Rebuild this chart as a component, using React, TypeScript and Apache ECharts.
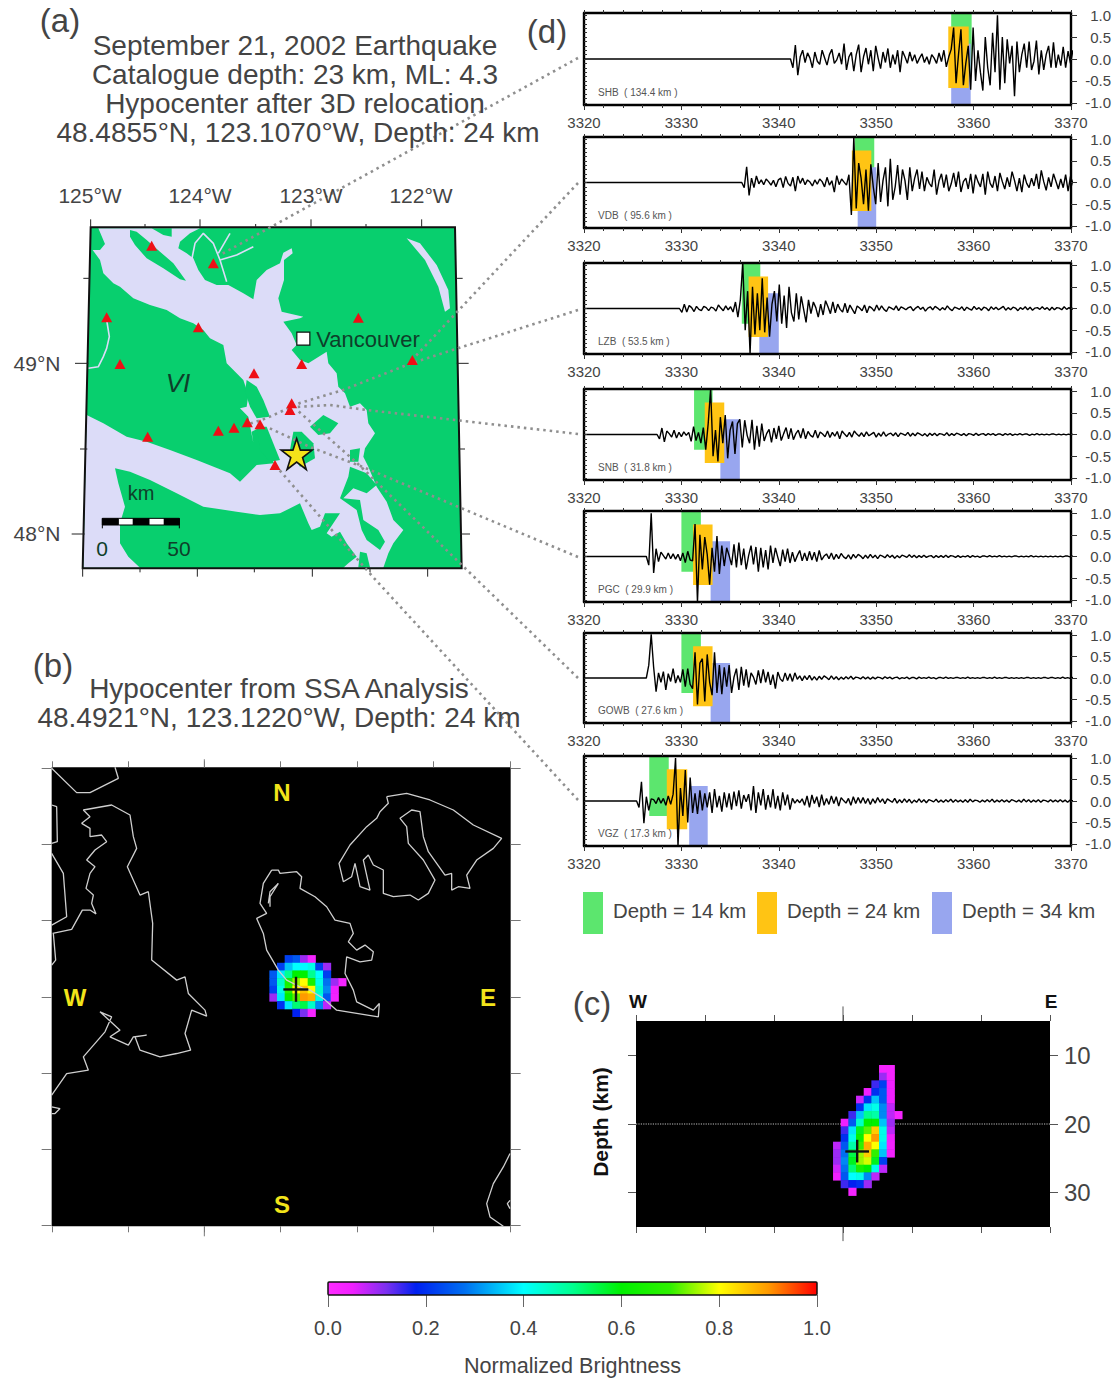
import React, { useEffect, useRef } from "react";
import * as echarts from "echarts";

const FONT = "Liberation Sans";
const stations = ["SHB  ( 134.4 km )", "VDB  ( 95.6 km )", "LZB  ( 53.5 km )", "SNB  ( 31.8 km )", "PGC  ( 29.9 km )", "GOWB  ( 27.6 km )", "VGZ  ( 17.3 km )"];
const panelTops = [13, 137, 263, 389, 511, 633, 756];
const panelBottoms = [105, 228, 354, 480, 602, 723, 846];
const xTicks = [3320, 3370];
const yTickValues = [-1, -0.5, 0, 0.5, 1];
const yMinorValues = [-1, -0.9, -0.8, -0.7, -0.6, -0.5, -0.4, -0.3, -0.2, -0.1, 0, 0.1, 0.2, 0.3, 0.4, 0.5, 0.6, 0.7, 0.8, 0.9, 1];
const greenWindows = [[3357.7, 3359.8], [3347.8, 3349.8], [3336.2, 3338.1], [3331.3, 3333.2], [3330, 3332], [3330, 3332], [3326.7, 3328.7]];
const orangeWindows = [[3357.4, 3359.5], [3347.5, 3349.5], [3336.9, 3338.9], [3332.4, 3334.4], [3331.2, 3333.2], [3331.2, 3333.2], [3328.5, 3330.6]];
const blueWindows = [[3357.7, 3359.7], [3348.1, 3350], [3338, 3340], [3334, 3336], [3333, 3335], [3333, 3335], [3330.8, 3332.7]];
const greenRange = [1.05, -0.35];
const orangeRange = [0.74, -0.66];
const blueRange = [0.35, -1.05];
const waveStep = 0.25;
const waveOnsets = [3341.2, 3336.2, 3329.8, 3327.5, 3326.4, 3326.4, 3325.4];

const waveSHB = [0, -0.2, 0.32, -0.37, 0.05, 0.2, -0.08, 0.14, 0.02, -0.2, 0.16, -0.05, -0.12, 0.2, 0.03, -0.14, 0.1, 0.22, -0.1, -0.02, 0.14, -0.12, 0.35, -0.25, 0.05, 0.15, -0.28, 0.1, 0.33, -0.3, 0.05, 0.25, -0.12, 0.2, -0.28, 0.3, 0.02, -0.22, 0.16, -0.08, 0.24, -0.2, 0.1, -0.12, 0.2, -0.3, 0.18, 0.05, -0.1, 0.16, -0.05, 0.1, -0.1, 0.02, 0.12, -0.08, 0.05, -0.12, 0.1, 0.02, -0.1, 0.14, -0.06, 0.2, -0.18, 0.05, 0.22, 0.72, -0.55, 0.1, 0.68, -0.6, -0.1, 0.3, -0.7, 0.72, -0.5, 0.2, -0.3, -0.72, 0.5, -0.2, -0.6, 0.6, -0.3, 1.0, -0.7, 0.5, -0.55, 0.45, -0.1, 0.3, -0.85, 0.4, -0.3, 0.1, 0.35, -0.2, 0.4, -0.25, -0.05, 0.42, -0.35, 0.2, -0.25, 0.1, 0.3, -0.2, 0.38, -0.2, 0.1, -0.15, 0.28, -0.2, 0.18, -0.1, 0.2];
const waveVDB = [0, -0.12, 0.36, -0.3, 0.1, -0.12, 0.15, -0.03, 0.06, -0.05, 0.08, 0.02, -0.06, 0.05, -0.1, 0.06, 0.1, -0.12, 0.14, -0.02, -0.08, 0.12, -0.2, 0.15, -0.02, 0.1, -0.05, 0.06, 0.01, -0.08, 0.06, -0.04, 0.08, 0.02, -0.1, 0.12, -0.06, 0.04, -0.22, 0.16, -0.05, 0.08, 0.01, -0.06, 0.18, -0.75, 1.05, -0.6, 0.45, 0.1, -0.5, 0.3, -0.65, 0.42, -0.1, -0.5, 0.45, -0.45, 0.05, 0.35, -0.55, 0.55, -0.4, -0.1, 0.4, -0.28, 0.3, 0.05, -0.4, 0.35, -0.2, 0.1, 0.3, -0.15, 0.25, -0.2, 0.12, -0.02, -0.1, 0.3, -0.28, 0.04, 0.2, -0.12, 0.18, -0.2, -0.03, 0.22, -0.1, 0.25, -0.22, 0.02, 0.1, -0.15, 0.2, -0.25, 0.18, 0.02, -0.1, 0.2, -0.28, 0.25, -0.02, -0.12, 0.15, -0.2, 0.22, 0.02, -0.15, 0.12, -0.1, 0.25, 0.05, -0.2, 0.1, -0.22, 0.18, -0.02, -0.12, 0.1, -0.08, 0.2, -0.15, 0.28, 0.02, -0.18, 0.12, -0.1, 0.2, 0.03, -0.15, 0.08, -0.12, 0.18, -0.2, 0.14, -0.02, -0.22, 0.2, -0.1, 0.12, -0.25, 0.15, -0.08, 0.1];
const waveLZB = [0, -0.09, 0.1, -0.08, 0.07, 0.02, -0.07, 0.05, -0.02, -0.05, 0.05, 0.02, -0.05, 0.03, 0.01, -0.06, 0.08, 0.01, -0.05, 0.06, -0.03, 0.04, -0.08, 0.15, -0.2, 0.2, 1.05, -0.5, 0.4, -1.05, 0.5, -0.6, 0.35, -0.5, 0.7, -0.55, 0.25, -0.65, 0.1, 0.4, -0.3, 0.55, -0.35, 0.3, -0.45, 0.5, -0.1, -0.3, 0.35, -0.25, 0.28, -0.02, -0.32, 0.2, -0.12, 0.15, 0.02, -0.2, 0.1, -0.15, 0.18, 0.04, -0.12, 0.15, -0.1, 0.1, -0.02, -0.08, 0.12, -0.1, 0.08, -0.02, -0.12, 0.06, 0.01, -0.05, 0.08, -0.1, 0.05, 0.01, -0.06, 0.08, -0.04, 0.06, -0.02, -0.07, 0.04, 0.01, -0.03, 0.06, -0.05, 0.04, 0.01, -0.03, 0.02, 0.04, -0.05, 0.01, 0.05, -0.02, 0.03, -0.06, 0.01, 0.04, -0.03, 0.05, 0.01, -0.04, 0.02, -0.03, 0.06, -0.01, -0.05, 0.03, 0.01, -0.02, 0.04, -0.05, 0.03, -0.01, -0.04, 0.05, -0.02, 0.02, -0.04, 0.03, 0.01, -0.05, 0.04, -0.02, 0.03, -0.03, 0.01, 0.05, -0.04, 0.02, -0.03, 0.03, 0.01, -0.05, 0.02, -0.02, 0.04, -0.03, 0.03, -0.04, 0.01, 0.02, -0.02, 0.04, -0.02, 0.02, -0.04, 0.03, -0.03, 0.02, 0.01, -0.03, 0.04, -0.02, 0.02, -0.03, 0.03, -0.02, 0.02, 0.01];
const waveSNB = [0, -0.1, 0.15, -0.17, 0.08, 0.02, -0.06, 0.1, -0.08, 0.05, -0.05, 0.06, -0.02, 0.05, -0.16, 0.18, -0.14, 0.05, -0.2, 0.16, -0.35, 0.25, 1.05, -0.5, 0.1, -0.62, 0.4, -0.2, 0.45, -0.55, 0.1, 0.3, -0.45, 0.25, 0.35, -0.3, 0.33, -0.02, -0.2, 0.34, -0.35, 0.2, -0.28, 0.25, -0.15, 0.02, 0.12, -0.18, 0.15, -0.1, 0.2, -0.14, 0.02, 0.16, -0.1, 0.14, -0.12, 0.02, 0.1, -0.08, 0.14, -0.1, 0.07, -0.02, -0.06, 0.1, -0.08, 0.06, 0.01, -0.05, 0.08, -0.07, 0.05, -0.04, 0.07, -0.1, 0.08, 0.01, -0.05, 0.05, -0.06, 0.08, 0.01, -0.04, 0.04, -0.05, 0.06, -0.03, 0.01, 0.05, -0.06, 0.03, -0.04, 0.06, -0.04, 0.01, 0.03, -0.03, 0.04, -0.05, 0.03, 0.01, -0.02, 0.05, -0.04, 0.03, -0.03, 0.04, 0.01, -0.03, 0.02, -0.04, 0.03, -0.02, 0.03, -0.03, 0.02, 0.01, -0.02, 0.04, -0.03, 0.02, -0.02, 0.03, 0.01, -0.02, 0.02, -0.03, 0.02, 0.01, -0.02, 0.03, -0.02, 0.01, 0.02, -0.02, 0.02, -0.01, 0.02, -0.02, 0.01, 0.01, -0.02, 0.02, -0.01, 0.02, -0.02, 0.01, -0.01, 0.02, -0.01, 0.01, 0.01, -0.02, 0.01, -0.01, 0.02, -0.01, 0.01, -0.01, 0.01, -0.01, 0.01, 0.01, -0.01, 0.01, -0.01, 0.01, -0.01, 0.01, -0.01, 0.01, 0.01];
const wavePGC = [0, -0.2, 1.0, -0.38, 0.18, -0.12, 0.1, 0.02, -0.06, 0.08, -0.05, 0.06, -0.06, 0.05, -0.1, 0.08, -0.14, 0.12, -0.08, -0.1, 0.75, -1.05, 0.5, -0.3, 0.45, 0.05, -0.65, 0.2, -0.35, 0.47, -0.4, 0.25, -0.22, 0.2, 0.02, -0.2, 0.28, -0.25, 0.32, -0.2, 0.18, -0.3, 0.02, 0.25, -0.18, 0.22, -0.35, 0.2, -0.25, 0.15, -0.3, 0.25, -0.15, 0.2, -0.02, -0.22, 0.16, -0.12, 0.18, -0.15, 0.1, -0.12, 0.02, 0.14, -0.1, 0.08, -0.1, 0.12, -0.08, 0.1, -0.12, 0.14, -0.08, 0.01, 0.06, -0.05, 0.08, -0.07, 0.05, -0.05, 0.07, -0.01, -0.05, 0.04, -0.06, 0.05, -0.03, 0.05, 0.01, -0.05, 0.03, -0.04, 0.05, -0.03, 0.03, -0.05, 0.03, 0.01, -0.03, 0.04, -0.02, 0.03, -0.04, 0.02, -0.03, 0.03, 0.01, -0.02, 0.04, -0.02, 0.03, -0.03, 0.02, -0.02, 0.03, -0.02, 0.01, 0.02, -0.03, 0.02, -0.02, 0.02, -0.02, 0.03, -0.02, 0.02, 0.01, -0.02, 0.02, -0.02, 0.01, -0.01, 0.02, -0.02, 0.02, -0.01, 0.01, -0.02, 0.01, 0.01, -0.01, 0.02, -0.01, 0.01, -0.01, 0.02, -0.01, 0.01, -0.01, 0.01, -0.01, 0.01, 0.01, -0.01, 0.01, -0.01, 0.01, -0.01, 0.02, -0.01, 0.01, -0.01, 0.01, -0.01, 0.01, -0.01, 0.01, -0.01, 0.01, -0.01, 0.01, -0.01, 0.01, 0.01, -0.01, 0.01, -0.01, 0.01];
const waveGOWB = [0, 0.3, 1.02, 0.25, -0.32, 0.12, -0.1, 0.15, -0.28, 0.1, -0.08, 0.22, -0.12, 0.06, -0.1, 0.2, -0.2, 0.22, -0.15, -0.25, 0.6, -0.62, 0.35, 0.45, -0.55, 0.55, -0.1, -0.4, 0.6, -0.35, 0.3, -0.38, 0.25, -0.2, 0.3, -0.35, 0.02, 0.22, -0.28, 0.26, -0.18, 0.2, -0.22, 0.12, 0.02, -0.15, 0.18, -0.12, 0.2, -0.1, 0.14, -0.16, 0.08, -0.25, 0.14, -0.02, -0.08, 0.12, -0.06, 0.1, -0.08, 0.12, -0.03, 0.05, -0.06, 0.05, -0.04, 0.06, -0.05, 0.03, -0.05, 0.04, -0.03, 0.05, 0.01, -0.04, 0.05, -0.03, 0.03, -0.04, 0.02, -0.03, 0.03, -0.02, 0.04, -0.03, 0.02, 0.01, -0.02, 0.03, -0.02, 0.02, -0.03, 0.02, -0.02, 0.02, 0.01, -0.02, 0.03, -0.01, 0.02, -0.02, 0.01, 0.02, -0.02, 0.01, -0.01, 0.02, -0.02, 0.01, 0.01, -0.02, 0.02, -0.01, 0.01, -0.01, 0.02, -0.01, 0.01, -0.02, 0.01, 0.01, -0.01, 0.02, -0.01, 0.01, -0.01, 0.01, 0.01, -0.01, 0.01, -0.01, 0.02, -0.01, 0.01, -0.01, 0.01, -0.01, 0.01, 0.01, -0.01, 0.01, -0.01, 0.02, -0.01, 0.01, -0.01, 0.01, 0.01, -0.01, 0.01, -0.01, 0.01, -0.01, 0.01, -0.01, 0.01, 0.01, -0.01, 0.01, -0.01, 0.01, -0.01, 0.01, 0.01, -0.01, 0.01, 0.01, -0.01, 0.01, -0.01, 0.02, -0.01, 0.01, -0.01, 0.01, 0.01, -0.01, 0.01, -0.01, 0.01];
const waveVGZ = [0, -0.15, 0.45, -0.52, 0.1, -0.22, 0.05, 0.03, -0.06, 0.08, -0.05, 0.06, -0.1, 0.12, -0.08, 0.16, 1.0, -1.05, 0.3, -0.35, 0.72, -0.5, 0.55, -0.28, 0.18, -0.3, 0.25, -0.22, 0.18, -0.15, 0.2, -0.28, 0.28, -0.15, 0.12, -0.25, 0.2, -0.15, 0.18, -0.2, 0.22, -0.12, 0.25, -0.18, 0.14, -0.02, 0.16, -0.22, 0.35, -0.28, 0.2, -0.1, 0.28, -0.2, 0.14, -0.15, 0.28, -0.18, 0.12, -0.22, 0.2, -0.1, 0.15, -0.2, 0.06, -0.05, 0.03, -0.04, 0.05, -0.1, 0.12, -0.15, 0.14, -0.06, 0.1, -0.14, 0.15, -0.1, 0.06, -0.08, 0.12, -0.06, 0.1, -0.12, 0.08, 0.01, -0.05, 0.06, -0.1, 0.1, -0.06, 0.08, -0.05, 0.08, -0.06, 0.06, -0.08, 0.05, -0.05, 0.08, -0.03, 0.05, -0.06, 0.05, 0.01, -0.03, 0.06, -0.05, 0.03, -0.04, 0.05, -0.03, 0.04, -0.05, 0.02, -0.03, 0.05, -0.03, 0.03, -0.04, 0.03, 0.01, -0.02, 0.04, -0.03, 0.02, -0.03, 0.03, -0.02, 0.04, -0.03, 0.03, -0.02, 0.02, -0.03, 0.03, -0.03, 0.04, -0.02, 0.02, 0.01, -0.03, 0.02, -0.02, 0.03, -0.02, 0.04, -0.03, 0.02, -0.02, 0.03, -0.02, 0.02, -0.03, 0.03, 0.01, -0.02, 0.02, -0.03, 0.04, -0.02, 0.03, -0.03, 0.02, -0.02, 0.03, -0.03, 0.02, 0.01, -0.02, 0.03, -0.02, 0.02, -0.02, 0.03, -0.02, 0.02, -0.03, 0.02, 0.01, -0.02, 0.03];
const waves = [waveSHB, waveVDB, waveLZB, waveSNB, wavePGC, waveGOWB, waveVGZ];

// Map (a), in map-sheet units
const mapFrame = [[62, 52], [1155, 52], [1175, 1075], [38, 1075]];
const waterMain = [[85, 55], [390, 55], [360, 70], [330, 95], [325, 115], [350, 130], [370, 145], [385, 180], [405, 210], [440, 225], [475, 225], [520, 250], [550, 268], [560, 210], [590, 180], [630, 160], [640, 128], [665, 115], [668, 130], [642, 150], [642, 210], [625, 265], [635, 305], [700, 320], [690, 325], [640, 335], [665, 370], [680, 405], [665, 420], [690, 450], [715, 460], [770, 425], [775, 460], [800, 490], [805, 530], [825, 550], [840, 590], [870, 580], [890, 600], [895, 640], [915, 670], [885, 715], [880, 740], [895, 770], [920, 830], [950, 875], [970, 930], [1000, 960], [970, 1000], [955, 1030], [940, 1073], [820, 1073], [835, 1060], [860, 1040], [830, 1000], [810, 965], [785, 980], [770, 970], [810, 910], [765, 910], [750, 950], [725, 960], [715, 940], [690, 880], [630, 910], [570, 915], [500, 905], [400, 890], [320, 850], [240, 810], [180, 785], [135, 775], [145, 820], [165, 890], [150, 940], [150, 1000], [175, 1040], [210, 1073], [40, 1073], [50, 615], [100, 640], [170, 680], [230, 695], [300, 720], [380, 750], [480, 790], [510, 815], [560, 765], [612, 760], [600, 735], [585, 690], [565, 655], [545, 665], [550, 700], [535, 620], [510, 595], [530, 590], [535, 555], [520, 510], [470, 460], [460, 405], [420, 385], [400, 360], [370, 340], [330, 325], [290, 300], [240, 285], [190, 265], [150, 230], [130, 220], [100, 190], [90, 150], [68, 120], [90, 120], [105, 102]];
const lake = [[1010, 85], [1050, 100], [1100, 165], [1135, 240], [1140, 295], [1125, 305], [1105, 230], [1065, 150]];
const islandTexada = [[180, 60], [200, 65], [230, 90], [270, 125], [310, 160], [348, 212], [330, 208], [280, 175], [230, 145], [195, 105], [180, 80]];
const islandTop = [[245, 55], [305, 55], [305, 80], [280, 75]];
const islandSaltspring = [[530, 510], [560, 530], [580, 570], [600, 620], [560, 625], [540, 590], [525, 545]];
const islandSaanich = [[560, 650], [590, 650], [630, 750], [600, 755], [570, 720]];
const islandStar = [[670, 665], [695, 665], [730, 700], [735, 745], [690, 770], [660, 720]];
const islandOrcas = [[720, 650], [760, 615], [805, 640], [780, 670], [745, 675]];
const islandLopez = [[840, 720], [870, 715], [865, 755], [840, 755]];
const islandCentral = [[840, 770], [890, 790], [920, 825], [890, 850], [850, 835], [820, 865], [870, 870], [880, 930], [925, 960], [945, 995], [930, 1020], [890, 990], [875, 960], [860, 900], [810, 865], [835, 800]];
const islandSouth = [[870, 1025], [890, 1030], [900, 1072], [865, 1072]];
const landIslands = [islandTexada, islandTop, islandSaltspring, islandSaanich, islandStar, islandOrcas, islandLopez, islandCentral, islandSouth];
const rivers = [
  [[110, 330], [118, 380], [110, 415], [100, 440], [85, 470], [55, 475]],
  [[365, 150], [375, 100], [400, 70], [430, 100], [450, 150], [470, 215]],
  [[450, 150], [500, 135], [550, 110]],
  [[445, 130], [480, 70]],
];
const mapTicks = [
  [62, 52, 62, 28], [225, 52, 225, 42], [390, 52, 390, 28], [557, 52, 557, 42], [723, 52, 723, 28], [888, 52, 888, 42], [1055, 52, 1055, 28],
  [38, 1075, 38, 1100], [210, 1075, 210, 1087], [382, 1075, 382, 1100], [553, 1075, 553, 1087], [727, 1075, 727, 1100], [900, 1075, 900, 1087], [1073, 1075, 1073, 1100],
  [40, 205, 60, 205], [15, 460, 55, 460], [30, 717, 52, 717], [5, 972, 44, 972],
  [1158, 205, 1178, 205], [1160, 460, 1196, 460], [1165, 717, 1185, 717], [1170, 972, 1200, 972],
];
const stationSites = [[245, 107], [430, 160], [110, 322], [385, 352], [150, 462], [552, 490], [695, 462], [865, 323], [1027, 450], [665, 580], [660, 600], [233, 680], [445, 662], [492, 653], [532, 637], [570, 643], [615, 765]];
const epicentre = [[680, 732]];
const vancouverSite = [[700, 386]];
const scaleBlocks = [[97, 145, "#000"], [145, 190, "#fff"], [190, 237, "#000"], [237, 283, "#fff"], [283, 328, "#000"]];
const scaleBarRange = [925, 945];

// Leader lines between stations and waveforms, page units
const leaderLines = [
  [[578, 58], [220, 255]],
  [[578, 183], [412, 360]],
  [[578, 310], [412, 363], [343, 390], [300, 403], [267, 418], [240, 427]],
  [[578, 434], [367, 410], [330, 405], [296, 407]],
  [[578, 557], [363, 467], [310, 447], [267, 427]],
  [[578, 678], [357, 463], [297, 410]],
  [[578, 800], [373, 577], [323, 520], [275, 465]],
];

// Panel (b)
const coastB = [
  [[35, 25], [110, 98], [150, 98], [235, 55], [225, 22]],
  [[38, 520], [95, 508], [127, 450], [150, 450], [168, 462], [155, 430], [160, 405], [138, 385], [150, 340], [165, 320], [140, 300], [165, 270], [200, 245], [185, 225], [150, 230], [150, 205], [125, 190], [150, 170], [130, 150], [215, 135], [270, 165], [280, 230], [290, 265], [262, 320], [300, 405], [325, 395], [338, 490], [335, 600], [410, 660], [435, 650], [445, 700], [495, 750], [500, 768], [455, 750], [435, 820], [452, 870], [410, 880], [360, 890], [300, 870], [285, 830], [320, 825], [280, 830], [265, 855], [210, 830], [240, 810], [180, 755], [215, 770], [195, 815], [130, 890], [145, 930], [80, 940], [35, 1005]],
  [[35, 135], [50, 140], [52, 245], [35, 250]],
  [[35, 280], [70, 340], [80, 470], [35, 495]],
  [[40, 520], [47, 600], [35, 615]],
  [[35, 1040], [60, 1045], [45, 1060], [35, 1060]],
  [[695, 330], [715, 330], [720, 340], [770, 335], [785, 350], [780, 385], [825, 410], [860, 440], [885, 480], [930, 490], [940, 520], [925, 545], [950, 570], [975, 555], [1000, 575], [995, 600], [960, 605], [920, 590], [915, 640], [940, 690], [950, 725], [1000, 750], [1018, 730], [1015, 770], [890, 750], [850, 715], [810, 690], [790, 685], [740, 660], [715, 630], [680, 570], [670, 520], [650, 475], [680, 460], [660, 430], [665, 400], [670, 370], [695, 330]],
  [[685, 430], [690, 395], [715, 370], [690, 410], [690, 440]],
  [[1040, 110], [1100, 100], [1170, 120], [1240, 150], [1300, 195], [1385, 235], [1360, 265], [1310, 300], [1280, 345], [1290, 385], [1255, 380], [1235, 390], [1235, 340], [1215, 345], [1165, 275], [1150, 230], [1140, 155], [1115, 150], [1080, 175], [1100, 200], [1105, 250], [1150, 300], [1185, 360], [1165, 400], [1135, 420], [1110, 405], [1060, 410], [1030, 400], [1030, 330], [1000, 315], [985, 285], [970, 300], [990, 390], [960, 380], [945, 310], [935, 350], [910, 365], [897, 310], [930, 255], [980, 200], [1010, 175], [1020, 155], [1045, 130], [1040, 110]],
  [[1410, 1180], [1390, 1220], [1360, 1270], [1340, 1330], [1350, 1370], [1390, 1398]],
  [[1410, 1320], [1402, 1330], [1410, 1345]],
];
const heatBRows = [
  [2, [0.22, 0.25, 0.1, 0.03]],
  [1, [0.22, 0.35, 0.4, 0.4, 0.42, 0.22, 0.1]],
  [0, [0.25, 0.38, 0.5, 0.6, 0.6, 0.5, 0.4, 0.22]],
  [0, [0.25, 0.45, 0.65, 0.75, 0.8, 0.65, 0.42, 0.28, 0.1, 0.03]],
  [0, [0.22, 0.42, 0.68, 0.8, 0.86, 0.8, 0.45, 0.3, 0.05]],
  [0, [0.1, 0.38, 0.6, 0.72, 0.9, 0.88, 0.42, 0.25, 0.04]],
  [1, [0.2, 0.38, 0.52, 0.55, 0.45, 0.3, 0.08]],
  [3, [0.18, 0.12, 0.03]],
];
const heatBOrigin = [688, 585];
const heatBCell = 23;
const crossB = [[[730, 688], [805, 688]], [[768, 650], [768, 725]]];
const bTicksX = [37, 265, 493, 722, 951, 1180, 1410];
const bTicksY = [25, 254, 482, 711, 940, 1167, 1396];

// Panel (c)
const heatCRows = [
  [6, [0.03, 0.03]],
  [6, [0.1, 0.03]],
  [5, [0.15, 0.22, 0.05]],
  [4, [0.05, 0.2, 0.25, 0.05]],
  [3, [0.07, 0.2, 0.35, 0.25, 0.05]],
  [3, [0.2, 0.38, 0.42, 0.3, 0.08]],
  [2, [0.15, 0.35, 0.5, 0.48, 0.3, 0.08, 0.03]],
  [1, [0.05, 0.25, 0.45, 0.6, 0.6, 0.35, 0.1]],
  [1, [0.15, 0.38, 0.58, 0.72, 0.85, 0.42, 0.08]],
  [1, [0.2, 0.42, 0.62, 0.8, 0.9, 0.42, 0.05]],
  [0, [0.08, 0.25, 0.48, 0.7, 0.88, 0.8, 0.38, 0.04]],
  [0, [0.1, 0.28, 0.55, 0.75, 0.85, 0.7, 0.35, 0.04]],
  [0, [0.1, 0.3, 0.58, 0.75, 0.78, 0.58, 0.22]],
  [0, [0.07, 0.28, 0.52, 0.65, 0.6, 0.42, 0.08]],
  [0, [0.05, 0.25, 0.4, 0.42, 0.3, 0.08]],
  [1, [0.15, 0.18, 0.2, 0.1]],
  [2, [0.03]],
];
const heatCOrigin = [25.7, 5.74];
const crossC = [[[27.3, 24], [30.4, 24]], [[28.85, 22.3], [28.85, 25.6]]];
const depthRef = [[0, 20], [54, 20]];
const depthTicks = [10, 20, 30];

// Colour scale
const colorStops: [number, string][] = [[0, "#ff2bff"], [0.05, "#f020ff"], [0.12, "#7a30f0"], [0.18, "#0020f0"], [0.28, "#0070f0"], [0.4, "#00ffff"], [0.5, "#00ff90"], [0.6, "#00f000"], [0.7, "#30f000"], [0.8, "#ffff00"], [0.9, "#ff9a00"], [1, "#ff0000"]];
const colorTicks = [0, 0.2, 0.4, 0.6, 0.8, 1];

function scaleColor(v: number) {
  const hex = (h: string) => [1, 3, 5].map((i) => parseInt(h.slice(i, i + 2), 16));
  for (let i = 1; i < colorStops.length; i++) {
    if (v <= colorStops[i][0]) {
      const [p0, c0] = colorStops[i - 1];
      const [p1, c1] = colorStops[i];
      const t = (v - p0) / (p1 - p0);
      const a = hex(c0);
      const b = hex(c1);
      return `rgb(${a.map((x, k) => Math.round(x + (b[k] - x) * t)).join(",")})`;
    }
  }
  return "#ff0000";
}

function buildOption() {
  const grid: any[] = [];
  const xAxis: any[] = [];
  const yAxis: any[] = [];
  const series: any[] = [];
  const graphic: any[] = [];

  const noAxis = { show: false };
  const addHidden = (g: number, min: number, max: number, miny: number, maxy: number, invY = true) => {
    xAxis.push({ type: "value", gridIndex: g, min, max, ...noAxis });
    yAxis.push({ type: "value", gridIndex: g, min: miny, max: maxy, inverse: invY, ...noAxis });
    return [xAxis.length - 1, yAxis.length - 1];
  };

  const polygon = (ax: number[], pts: number[][], style: any, z = 2) => ({
    type: "custom", coordinateSystem: "cartesian2d", xAxisIndex: ax[0], yAxisIndex: ax[1], silent: true, clip: false, z,
    data: pts,
    renderItem: (p: any, api: any) => p.dataIndex === 0 ? { type: "polygon", shape: { points: pts.map((q) => api.coord(q)) }, style } : null,
  });
  const polyline = (ax: number[], pts: number[][], color: string, width: number, z = 3, type: any = "solid") => ({
    type: "line", xAxisIndex: ax[0], yAxisIndex: ax[1], data: pts, symbol: "none", silent: true, z, clip: false,
    lineStyle: { color, width, type },
  });
  const cells = (ax: number[], rows: any[], ox: number, oy: number, size: number, z = 4) => {
    const data: number[][] = [];
    rows.forEach(([start, vals]: any, r: number) => vals.forEach((v: number, c: number) => data.push([ox + (start + c) * size, oy + r * size, v])));
    return {
      type: "custom", coordinateSystem: "cartesian2d", xAxisIndex: ax[0], yAxisIndex: ax[1], silent: true, z,
      data, encode: { x: 0, y: 1 },
      renderItem: (_: any, api: any) => {
        const a = api.coord([api.value(0), api.value(1)]);
        const b = api.coord([api.value(0) + size, api.value(1) + size]);
        return { type: "rect", shape: { x: a[0], y: a[1], width: b[0] - a[0] + 0.5, height: b[1] - a[1] + 0.5 }, style: { fill: scaleColor(api.value(2)) } };
      },
    };
  };
  const text = (t: string, x: number, y: number, size: number, extra: any = {}, styleExtra: any = {}) =>
    graphic.push({ type: "text", x, y, z: 60, silent: true, ...extra, style: { text: t, fontSize: size, fontFamily: FONT, fill: "#444", textAlign: "center", textVerticalAlign: "middle", ...styleExtra } });

  // Waveform panels
  waves.forEach((w, i) => {
    const g = grid.length;
    grid.push({ left: 584, width: 488, top: panelTops[i], height: panelBottoms[i] - panelTops[i], show: false });
    const line = { show: true, onZero: false, lineStyle: { color: "#000", width: 2.4 } };
    const xi = xAxis.length;
    const yi = yAxis.length;
    const tickStyle = { color: "#333", width: 1 };
    xAxis.push({
      type: "value", gridIndex: g, position: "bottom", min: xTicks[0], max: xTicks[1], interval: 10, z: 6, axisLine: line,
      axisTick: { show: true, length: 5, lineStyle: tickStyle }, minorTick: { show: true, splitNumber: 5, length: 3, lineStyle: tickStyle },
      splitLine: { show: false }, minorSplitLine: { show: false },
      axisLabel: { show: true, fontFamily: FONT, fontSize: 15, color: "#444", margin: 10, formatter: (v: number) => String(v), showMinLabel: true, showMaxLabel: true, hideOverlap: false },
    });
    xAxis.push({
      type: "value", gridIndex: g, position: "top", min: xTicks[0], max: xTicks[1], interval: 10, z: 6, axisLine: line,
      axisTick: { show: true, length: 3, lineStyle: tickStyle }, minorTick: { show: true, splitNumber: 5, length: 3, lineStyle: tickStyle },
      splitLine: { show: false }, axisLabel: { show: false },
    });
    yAxis.push({
      type: "value", gridIndex: g, position: "left", min: -1.05, max: 1.05, z: 6, axisLine: line, splitLine: { show: false }, axisLabel: { show: false },
      axisTick: { show: true, inside: true, length: 3, customValues: yMinorValues, lineStyle: tickStyle },
    });
    yAxis.push({
      type: "value", gridIndex: g, position: "right", min: -1.05, max: 1.05, z: 6, axisLine: line, splitLine: { show: false },
      axisTick: { show: true, length: 6, customValues: yTickValues, lineStyle: tickStyle },
      axisLabel: { show: true, customValues: yTickValues, fontFamily: FONT, fontSize: 15, color: "#444", align: "right", margin: 40, formatter: (v: number) => v.toFixed(1) },
    });
    const win = (range: number[], r: number[], color: string, z: number) => ({
      type: "custom", coordinateSystem: "cartesian2d", xAxisIndex: xi, yAxisIndex: yi, silent: true, z,
      data: [[range[0], r[0], range[1], r[1]]],
      renderItem: (_: any, api: any) => {
        const a = api.coord([range[0], r[0]]);
        const b = api.coord([range[1], r[1]]);
        return { type: "rect", shape: { x: a[0], y: a[1], width: b[0] - a[0], height: b[1] - a[1] }, style: { fill: color } };
      },
    });
    series.push(win(greenWindows[i], greenRange, "#5ce66e", 2));
    series.push(win(blueWindows[i], blueRange, "#98a6ef", 3));
    series.push(win(orangeWindows[i], orangeRange, "#ffc414", 4));
    const pts: number[][] = [[3320, 0]];
    w.forEach((v, k) => pts.push([waveOnsets[i] + k * waveStep, v]));
    series.push({ type: "line", xAxisIndex: xi, yAxisIndex: yi, data: pts, symbol: "none", silent: true, z: 5, clip: true, lineStyle: { color: "#000", width: 1.4 } });
    text(stations[i], 598, panelBottoms[i] - 13, 10, {}, { textAlign: "left", fill: "#555" });
  });

  // Map panel
  const gMap = grid.length;
  grid.push({ left: 70, top: 210, width: 400, height: 370, show: false });
  const mAx = addHidden(gMap, 0, 1200, 0, 1110);
  series.push(polygon(mAx, mapFrame, { fill: "#08cf6e" }, 2));
  series.push(polygon(mAx, waterMain, { fill: "#dcdcf8" }, 2));
  series.push(polygon(mAx, lake, { fill: "#dcdcf8" }, 2));
  landIslands.forEach((isl) => series.push(polygon(mAx, isl, { fill: "#08cf6e" }, 2)));
  rivers.forEach((r) => series.push(polyline(mAx, r, "#dcdcf8", 1.6, 2)));
  series.push(polygon(mAx, mapFrame, { fill: "none", stroke: "#111", lineWidth: 2 }, 3));
  mapTicks.forEach((s) => series.push(polyline(mAx, [[s[0], s[1]], [s[2], s[3]]], "#222", 1, 3)));
  scaleBlocks.forEach((b) => series.push(polygon(mAx, [[b[0] as number, scaleBarRange[0]], [b[1] as number, scaleBarRange[0]], [b[1] as number, scaleBarRange[1]], [b[0] as number, scaleBarRange[1]]], { fill: b[2], stroke: "#000", lineWidth: 1 }, 3)));
  series.push(polyline(mAx, [[97, 925], [97, 955]], "#000", 1, 3));
  series.push(polyline(mAx, [[328, 925], [328, 955]], "#000", 1, 3));
  series.push({ type: "scatter", xAxisIndex: mAx[0], yAxisIndex: mAx[1], data: stationSites, symbol: "triangle", symbolSize: [11, 10], silent: true, z: 11, itemStyle: { color: "#ee0f16", opacity: 1 } });
  series.push({ type: "scatter", xAxisIndex: mAx[0], yAxisIndex: mAx[1], data: vancouverSite, symbol: "rect", symbolSize: 13, silent: true, z: 8, itemStyle: { color: "#fff", borderColor: "#111", borderWidth: 1.2, opacity: 1 } });
  series.push({
    type: "scatter", xAxisIndex: mAx[0], yAxisIndex: mAx[1], data: epicentre, silent: true, z: 12,
    symbol: "path://M50 0 L62 36 L100 36 L69 59 L81 96 L50 73 L19 96 L31 59 L0 36 L38 36 Z", symbolSize: 31,
    itemStyle: { color: "#f4e31a", borderColor: "#111", borderWidth: 1.6, opacity: 1 },
  });

  // Panel (b)
  const gB = grid.length;
  grid.push({ left: 51.67, top: 767.3, width: 459, height: 459, show: true, backgroundColor: "#000", borderWidth: 0 });
  const gray = { color: "#777", width: 1 };
  const bAxisX = (position: string) => ({
    type: "value", gridIndex: gB, position, min: 35, max: 1412, axisLine: { show: false, onZero: false }, splitLine: { show: false }, axisLabel: { show: false },
    axisTick: { show: true, length: 6, customValues: bTicksX, lineStyle: gray },
  });
  const bAxisY = (position: string) => ({
    type: "value", gridIndex: gB, position, min: 22, max: 1398, inverse: true, axisLine: { show: false, onZero: false }, splitLine: { show: false }, axisLabel: { show: false },
    axisTick: { show: true, length: 10, customValues: bTicksY, lineStyle: gray },
  });
  xAxis.push(bAxisX("bottom"));
  const bX = xAxis.length - 1;
  xAxis.push(bAxisX("top"));
  yAxis.push(bAxisY("left"));
  const bY = yAxis.length - 1;
  yAxis.push(bAxisY("right"));
  const bAx = [bX, bY];
  series.push(cells(bAx, heatBRows, heatBOrigin[0], heatBOrigin[1], heatBCell, 3));
  coastB.forEach((c) => series.push(polyline(bAx, c, "#cfcfcf", 1.3, 4)));
  crossB.forEach((c) => series.push(polyline(bAx, c, "#111", 2.4, 5)));
  series.push(polyline(bAx, [[493, 22], [493, -2]], "#777", 1, 3));
  series.push(polyline(bAx, [[493, 1398], [493, 1428]], "#777", 1, 3));

  // Panel (c)
  const gC = grid.length;
  grid.push({ left: 636, top: 1021, width: 414, height: 206, show: true, backgroundColor: "#000", borderWidth: 0 });
  const cTick = { color: "#555", width: 1 };
  const cAxisX = (position: string) => ({
    type: "value", gridIndex: gC, position, min: 0, max: 54, interval: 9, axisLine: { show: false, onZero: false }, splitLine: { show: false }, axisLabel: { show: false },
    axisTick: { show: true, length: 6, lineStyle: cTick },
  });
  xAxis.push(cAxisX("bottom"));
  const cX = xAxis.length - 1;
  xAxis.push(cAxisX("top"));
  const depthAxis = (position: string, labels: boolean) => ({
    type: "value", gridIndex: gC, position, min: 5, max: 35, inverse: true, axisLine: { show: false, onZero: false }, splitLine: { show: false },
    axisTick: { show: true, length: 8, customValues: depthTicks, lineStyle: cTick },
    axisLabel: labels ? { show: true, customValues: depthTicks, fontFamily: FONT, fontSize: 24, color: "#444", margin: 14 } : { show: false },
  });
  yAxis.push(depthAxis("left", false));
  const cDepth = yAxis.length - 1;
  yAxis.push(depthAxis("right", true));
  yAxis.push({ type: "value", gridIndex: gC, min: 0, max: 26.86, inverse: true, show: false });
  const cCell = yAxis.length - 1;
  series.push(polyline([cX, cDepth], depthRef, "#bdbdbd", 1.2, 2, "dotted"));
  series.push(cells([cX, cCell], heatCRows, heatCOrigin[0], heatCOrigin[1], 1, 3));
  crossC.forEach((c) => series.push(polyline([cX, cDepth], c, "#111", 2.4, 5)));
  series.push(polyline([cX, cCell], [[27, 0], [27, -1.9]], "#555", 1, 3));
  series.push(polyline([cX, cCell], [[27, 26.86], [27, 28.7]], "#555", 1, 3));

  // Colour bar
  const gBar = grid.length;
  grid.push({ left: 328, top: 1282, width: 489, height: 13, show: false });
  xAxis.push({
    type: "value", gridIndex: gBar, min: 0, max: 1, interval: 0.2, axisLine: { show: false, onZero: false }, splitLine: { show: false },
    axisTick: { show: true, length: 12, lineStyle: { color: "#666", width: 1 } },
    axisLabel: { show: true, fontFamily: FONT, fontSize: 20, color: "#444", margin: 23, formatter: (v: number) => v.toFixed(1) },
    name: "Normalized Brightness", nameLocation: "middle", nameGap: 59, nameTextStyle: { fontFamily: FONT, fontSize: 21.6, color: "#444" },
  });
  const barX = xAxis.length - 1;
  yAxis.push({ type: "value", gridIndex: gBar, min: 0, max: 1, show: false });
  const barY = yAxis.length - 1;
  series.push({
    type: "custom", coordinateSystem: "cartesian2d", xAxisIndex: barX, yAxisIndex: barY, silent: true, z: 3, data: colorTicks.map((t) => [t, 0]),
    renderItem: (p: any, api: any) => {
      if (p.dataIndex !== 0) return null;
      const a = api.coord([0, 1]);
      const b = api.coord([1, 0]);
      return {
        type: "rect", shape: { x: a[0], y: a[1], width: b[0] - a[0], height: b[1] - a[1], r: 1 },
        style: { fill: { type: "linear", x: 0, y: 0, x2: 1, y2: 0, colorStops: colorStops.map(([offset, color]) => ({ offset, color })) }, stroke: "#111", lineWidth: 1.5 },
      };
    },
  });

  // Leader lines
  const gAll = grid.length;
  grid.push({ left: 0, top: 0, width: 1114, height: 1378, show: false });
  const allAx = addHidden(gAll, 0, 1114, 0, 1378);
  leaderLines.forEach((l) => series.push(polyline(allAx, l, "#8f8f8f", 2.6, 10, [2.5, 4])));

  // Text
  text("(a)", 60, 20, 33);
  text("(b)", 53, 665, 33);
  text("(c)", 592, 1003, 33);
  text("(d)", 547, 31, 33);
  text("September 21, 2002 Earthquake", 295, 45, 28);
  text("Catalogue depth: 23 km, ML: 4.3", 295, 74, 28);
  text("Hypocenter after 3D relocation", 295, 103, 28);
  text("48.4855°N, 123.1070°W, Depth: 24 km", 298, 132, 28);
  text("Hypocenter from SSA Analysis", 279, 688, 28);
  text("48.4921°N, 123.1220°W, Depth: 24 km", 279, 717, 28);
  [["125°W", 90], ["124°W", 200], ["123°W", 311], ["122°W", 421]].forEach(([t, x]) => text(t as string, x as number, 195, 21));
  text("49°N", 37, 363, 21);
  text("48°N", 37, 533, 21);
  text("Vancouver", 368, 339, 22, {}, { fill: "#0e3f2a" });
  text("VI", 178, 383, 26, {}, { fontStyle: "italic", fill: "#0e3f2a" });
  text("km", 141, 493, 20, {}, { fill: "#0e3f2a" });
  text("0", 102, 548, 21, {}, { fill: "#0e3f2a" });
  text("50", 179, 548, 21, {}, { fill: "#0e3f2a" });
  const yellow = { fill: "#f2e41a", fontWeight: "bold" };
  text("N", 282, 792, 24, {}, yellow);
  text("S", 282, 1204, 24, {}, yellow);
  text("W", 75, 997, 24, {}, yellow);
  text("E", 488, 997, 24, {}, yellow);
  text("W", 638, 1001, 19, {}, { fill: "#111", fontWeight: "bold" });
  text("E", 1051, 1001, 19, {}, { fill: "#111", fontWeight: "bold" });
  text("Depth (km)", 600, 1122, 21, { rotation: Math.PI / 2 }, { fill: "#111", fontWeight: "bold" });

  const legendItems = [["Depth = 14 km", "#5ce66e", 583], ["Depth = 24 km", "#ffc414", 757], ["Depth = 34 km", "#98a6ef", 932]];
  legendItems.forEach(([t, c, x]) => {
    graphic.push({ type: "rect", z: 60, silent: true, shape: { x: x as number, y: 892, width: 20, height: 42 }, style: { fill: c as string } });
    text(t as string, (x as number) + 30, 911, 20.4, {}, { textAlign: "left" });
  });

  return { animation: false, backgroundColor: "#fff", textStyle: { fontFamily: FONT }, grid, xAxis, yAxis, series, graphic };
}

export default function App() {
  const ref = useRef<HTMLDivElement>(null);
  useEffect(() => {
    const chart = echarts.init(ref.current!, undefined, { renderer: "svg" });
    chart.setOption(buildOption() as any);
    return () => chart.dispose();
  }, []);
  return <div ref={ref} style={{ position: "absolute", left: 0, top: 0, width: 1114, height: 1378 }} />;
}
